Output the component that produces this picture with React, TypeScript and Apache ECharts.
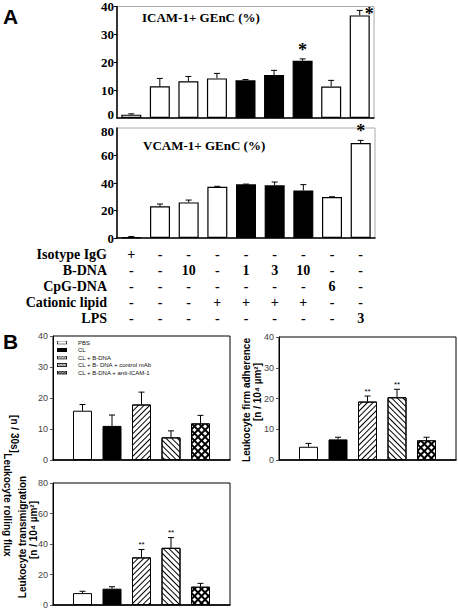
import React, { useEffect, useRef } from "react";
import * as echarts from "echarts";

// ---------- Panel A data ----------
const catIdx = ["1", "2", "3", "4", "5", "6", "7", "8", "9"];
const icamValues = [1.2, 11.4, 13.2, 14.2, 13.5, 15.4, 20.5, 11.3, 36.8];
const icamErrors = [0.3, 2.8, 1.7, 1.8, 0.3, 1.7, 0.7, 2.2, 1.8];
const icamStars = ["", "", "", "", "", "", "*", "", "*"];
const vcamValues = [0.6, 23.0, 25.9, 37.3, 39.0, 38.3, 34.6, 29.8, 69.1];
const vcamErrors = [0.5, 1.7, 1.7, 0.3, 0.2, 2.4, 4.2, 0.2, 1.9];
const vcamStars = ["", "", "", "", "", "", "", "", "*"];
const icamMax = 40;
const vcamMax = 80;

const rowLabels = ["Isotype IgG", "B-DNA", "CpG-DNA", "Cationic lipid", "LPS"];
const isotypeRow = ["+", "-", "-", "-", "-", "-", "-", "-", "-"];
const bdnaRow = ["-", "-", "10", "-", "1", "3", "10", "-", "-"];
const cpgRow = ["-", "-", "-", "-", "-", "-", "-", "6", "-"];
const lipidRow = ["-", "-", "-", "+", "+", "+", "+", "-", "-"];
const lpsRow = ["-", "-", "-", "-", "-", "-", "-", "-", "3"];
const tableRows = [isotypeRow, bdnaRow, cpgRow, lipidRow, lpsRow];

// ---------- Panel B data ----------
const groupNames = [
  "PBS",
  "CL",
  "CL + B-DNA",
  "CL + B- DNA + control mAb",
  "CL + B-DNA + anti-ICAM-1",
];
const rollingValues = [15.9, 11.0, 17.9, 7.3, 11.8];
const rollingErrors = [2.0, 3.5, 4.0, 2.1, 2.6];
const rollingStars = ["", "", "", "", ""];
const adhesionValues = [4.3, 6.7, 19.0, 20.4, 6.4];
const adhesionErrors = [1.1, 0.7, 1.8, 2.6, 1.0];
const adhesionStars = ["", "", "**", "**", ""];
const transValues = [7.8, 10.7, 31.2, 37.5, 12.0];
const transErrors = [1.2, 1.3, 5.2, 6.7, 2.2];
const transStars = ["", "", "**", "**", ""];

const SERIF = "Liberation Serif";
const SANS = "Liberation Sans";

const bStyles: any[] = [
  { color: "#fff" },
  { color: "#000" },
  {
    color: "#fff",
    decal: { symbol: "rect", symbolSize: 1, dashArrayX: [1, 0], dashArrayY: [1, 2.6], rotation: -Math.PI / 4, color: "#000" },
  },
  {
    color: "#fff",
    decal: { symbol: "rect", symbolSize: 1, dashArrayX: [1, 0], dashArrayY: [1, 2.6], rotation: Math.PI / 4, color: "#000" },
  },
  {
    color: "#000",
    decal: { symbol: "rect", symbolSize: 1, dashArrayX: [2.2, 1.2], dashArrayY: [2.2, 1.2], rotation: Math.PI / 4, color: "#fff" },
  },
];

function legendIcon(kind: number): string {
  let inner = "";
  const lines = (dir: number) => {
    let s = "";
    for (let i = -10; i <= 24; i += 3) {
      s += dir > 0
        ? `<line x1='${i}' y1='8' x2='${i + 8}' y2='0' stroke='black' stroke-width='1'/>`
        : `<line x1='${i}' y1='0' x2='${i + 8}' y2='8' stroke='black' stroke-width='1'/>`;
    }
    return s;
  };
  if (kind === 0) inner = `<rect x='0' y='0' width='20' height='8' fill='white'/>`;
  if (kind === 1) inner = `<rect x='0' y='0' width='20' height='8' fill='black'/>`;
  if (kind === 2) inner = `<rect x='0' y='0' width='20' height='8' fill='white'/>` + lines(1);
  if (kind === 3) inner = `<rect x='0' y='0' width='20' height='8' fill='white'/>` + lines(-1);
  if (kind === 4) inner = `<rect x='0' y='0' width='20' height='8' fill='white'/>` + lines(1) + lines(-1);
  const svg =
    `<svg xmlns='http://www.w3.org/2000/svg' width='20' height='8' viewBox='0 0 20 8'>` +
    inner +
    `<rect x='0.75' y='0.75' width='18.5' height='6.5' fill='none' stroke='black' stroke-width='1.5'/></svg>`;
  return "image://data:image/svg+xml;charset=utf-8," + encodeURIComponent(svg);
}

function errorSeries(
  xi: number,
  values: number[],
  errors: number[],
  stars: string[],
  offset: number,
  cap: number,
  starFont: string,
  starLift: number
) {
  return {
    type: "custom",
    xAxisIndex: xi,
    yAxisIndex: xi,
    z: 5,
    silent: true,
    data: values.map((v, i) => [i + offset, v, errors[i]]),
    renderItem: (params: any, api: any) => {
      const x = api.value(0);
      const v = api.value(1);
      const e = api.value(2);
      const p0 = api.coord([x, v]);
      const p1 = api.coord([x, v + e]);
      const cs = params.coordSys;
      const children: any[] = [
        { type: "line", shape: { x1: p0[0], y1: p0[1], x2: p1[0], y2: p1[1] }, style: { stroke: "#000", lineWidth: 1 } },
        { type: "line", shape: { x1: p1[0] - cap, y1: p1[1], x2: p1[0] + cap, y2: p1[1] }, style: { stroke: "#000", lineWidth: 1 } },
      ];
      const s = stars[params.dataIndex];
      if (s) {
        const above = p1[1] - 12 > cs.y;
        children.push({
          type: "text",
          x: above ? p1[0] : p1[0] + cap + 2,
          y: above ? p1[1] - starLift : p1[1] + 4,
          style: { text: s, align: above ? "center" : "left", verticalAlign: "middle", font: starFont, fill: "#000" },
        });
      }
      return { type: "group", children };
    },
  };
}

export default function App() {
  const ref = useRef<HTMLDivElement>(null);
  useEffect(() => {
    if (!ref.current) return;
    const chart = echarts.init(ref.current, null, { renderer: "svg" });

    const aLabelFont = `bold 13px ${SERIF}`;
    const aYAxis = (gi: number, max: number, interval: number, hideMin: boolean, hideMax: boolean) => ({
      type: "value",
      gridIndex: gi,
      min: 0,
      max,
      interval,
      axisLine: { show: true, lineStyle: { color: "#000", width: 1.5 } },
      axisTick: { show: true, length: 3, lineStyle: { color: "#000" } },
      axisLabel: {
        margin: 3,
        color: "#000",
        fontFamily: SERIF,
        fontWeight: "bold",
        fontSize: 13,
        showMinLabel: !hideMin,
        showMaxLabel: !hideMax,
      },
      splitLine: { show: false },
    });
    const bYAxis = (gi: number, max: number, interval: number) => ({
      type: "value",
      gridIndex: gi,
      min: 0,
      max,
      interval,
      axisLine: { show: true, lineStyle: { color: "#000", width: 1 } },
      axisTick: { show: true, length: 3, lineStyle: { color: "#555" } },
      axisLabel: { margin: 5, color: "#444", fontFamily: SANS, fontSize: 9 },
      splitLine: { show: false },
    });
    const bXAxis = (gi: number) => ({
      type: "category",
      gridIndex: gi,
      data: ["", ...groupNames, " "],
      boundaryGap: false,
      axisLine: { show: true, lineStyle: { color: "#000", width: 1.5 } },
      axisTick: { show: false },
      axisLabel: { show: false },
    });

    const aFill = (i: number) => (lipidRow[i] === "+" && bdnaRow[i] !== "-" ? "#000" : "#fff");

    const bBarSeries: any[] = [];
    const bSets = [
      { xi: 2, values: rollingValues },
      { xi: 3, values: adhesionValues },
      { xi: 4, values: transValues },
    ];
    bSets.forEach((set) => {
      groupNames.forEach((name, k) => {
        const data: any[] = [null, null, null, null, null, null, null];
        data[k + 1] = set.values[k];
        bBarSeries.push({
          type: "bar",
          name,
          xAxisIndex: set.xi,
          yAxisIndex: set.xi,
          stack: "s" + set.xi,
          barWidth: 19,
          data,
          itemStyle: { ...bStyles[k], borderColor: "#000", borderWidth: 1 },
        });
      });
    });

    const option: any = {
      animation: false,
      grid: [
        { left: 117, top: 6, width: 257, height: 112, show: true, borderColor: "#aaa", borderWidth: 1 },
        { left: 117, top: 128, width: 258, height: 110, show: true, borderColor: "#aaa", borderWidth: 1 },
        { left: 53, top: 336, width: 177, height: 124, show: true, borderColor: "#000", borderWidth: 1 },
        { left: 279, top: 337, width: 177, height: 123, show: true, borderColor: "#000", borderWidth: 1 },
        { left: 53, top: 483, width: 177, height: 122, show: true, borderColor: "#000", borderWidth: 1 },
      ],
      xAxis: [
        {
          type: "category",
          gridIndex: 0,
          data: catIdx,
          axisLine: { show: true, lineStyle: { color: "#000", width: 1.5 } },
          axisTick: { show: false },
          axisLabel: { show: false },
        },
        {
          type: "category",
          gridIndex: 1,
          data: catIdx,
          axisLine: { show: true, lineStyle: { color: "#000", width: 1.5 } },
          axisTick: { show: false },
          axisLabel: {
            interval: 0,
            margin: 8,
            formatter: (_v: string, i: number) => tableRows.map((r) => r[i]).join("\n"),
            color: "#000",
            fontFamily: SERIF,
            fontWeight: "bold",
            fontSize: 14,
            lineHeight: 16,
          },
        },
        bXAxis(2),
        bXAxis(3),
        bXAxis(4),
      ],
      yAxis: [
        aYAxis(0, icamMax, 10, true, false),
        aYAxis(1, vcamMax, 20, false, true),
        bYAxis(2, 40, 10),
        bYAxis(3, 40, 10),
        bYAxis(4, 80, 20),
      ],
      legend: {
        left: 57,
        top: 339,
        orient: "vertical",
        itemWidth: 10,
        itemHeight: 4,
        itemGap: 0.5,
        padding: 0,
        selectedMode: false,
        data: groupNames.map((name, k) => ({ name, icon: legendIcon(k) })),
        textStyle: { fontSize: 6, fontFamily: SANS, color: "#111", lineHeight: 7, padding: [0, 0, 0, 6] },
      },
      series: [
        {
          type: "bar",
          xAxisIndex: 0,
          yAxisIndex: 0,
          barWidth: 20,
          data: icamValues.map((v, i) => ({ value: v, itemStyle: { color: aFill(i) } })),
          itemStyle: { borderColor: "#000", borderWidth: 1.2 },
        },
        {
          type: "bar",
          xAxisIndex: 1,
          yAxisIndex: 1,
          barWidth: 20,
          data: vcamValues.map((v, i) => ({ value: v, itemStyle: { color: aFill(i) } })),
          itemStyle: { borderColor: "#000", borderWidth: 1.2 },
        },
        errorSeries(0, icamValues, icamErrors, icamStars, 0, 3, `bold 18px ${SERIF}`, 9),
        errorSeries(1, vcamValues, vcamErrors, vcamStars, 0, 3, `bold 18px ${SERIF}`, 9),
        ...bBarSeries,
        errorSeries(2, rollingValues, rollingErrors, rollingStars, 1, 3, `8px ${SANS}`, 5),
        errorSeries(3, adhesionValues, adhesionErrors, adhesionStars, 1, 3, `8px ${SANS}`, 5),
        errorSeries(4, transValues, transErrors, transStars, 1, 3, `8px ${SANS}`, 5),
      ],
      graphic: [
        { type: "text", left: 3, top: 6, style: { text: "A", font: `bold 21px ${SANS}`, fill: "#000" } },
        { type: "text", left: 3, top: 331, style: { text: "B", font: `bold 21px ${SANS}`, fill: "#000" } },
        // crowded end labels of the two stacked A axes, nudged apart as in the reference
        { type: "text", x: 114, y: 114, style: { text: "0", font: aLabelFont, fill: "#000", align: "right", verticalAlign: "middle" } },
        { type: "text", x: 114, y: 131, style: { text: String(vcamMax), font: aLabelFont, fill: "#000", align: "right", verticalAlign: "middle" } },
        { type: "text", x: 142, y: 17, style: { text: "ICAM-1+ GEnC (%)", font: `bold 13px ${SERIF}`, fill: "#000", verticalAlign: "middle" } },
        { type: "text", x: 143, y: 145, style: { text: "VCAM-1+ GEnC (%)", font: `bold 13px ${SERIF}`, fill: "#000", verticalAlign: "middle" } },
        {
          type: "text",
          x: 107,
          y: 246,
          style: { text: rowLabels.join("\n"), font: `bold 14px ${SERIF}`, fill: "#000", align: "right", verticalAlign: "top", lineHeight: 16 },
        },
        { type: "text", x: 14, y: 434, rotation: -Math.PI / 2, style: { text: "[n / 30s]", font: `bold 10px ${SANS}`, fill: "#000", align: "center", verticalAlign: "middle" } },
        { type: "text", x: 7, y: 505, rotation: -Math.PI / 2, style: { text: "Leukocyte rolling flux", font: `bold 10px ${SANS}`, fill: "#000", align: "center", verticalAlign: "middle" } },
        { type: "text", x: 246, y: 400, rotation: Math.PI / 2, style: { text: "Leukocyte firm adherence", font: `bold 10px ${SANS}`, fill: "#000", align: "center", verticalAlign: "middle" } },
        { type: "text", x: 257, y: 392, rotation: Math.PI / 2, style: { text: "[n / 10⁴ µm²]", font: `bold 10px ${SANS}`, fill: "#000", align: "center", verticalAlign: "middle" } },
        { type: "text", x: 22, y: 537, rotation: Math.PI / 2, style: { text: "Leukocyte transmigration", font: `bold 10px ${SANS}`, fill: "#000", align: "center", verticalAlign: "middle" } },
        { type: "text", x: 33, y: 530, rotation: Math.PI / 2, style: { text: "[n / 10⁴ µm²]", font: `bold 10px ${SANS}`, fill: "#000", align: "center", verticalAlign: "middle" } },
      ],
    };
    chart.setOption(option);
    return () => chart.dispose();
  }, []);
  return (
    <div
      ref={ref}
      style={{ position: "absolute", left: 0, top: 0, width: 458, height: 610, background: "#fff" }}
    />
  );
}
